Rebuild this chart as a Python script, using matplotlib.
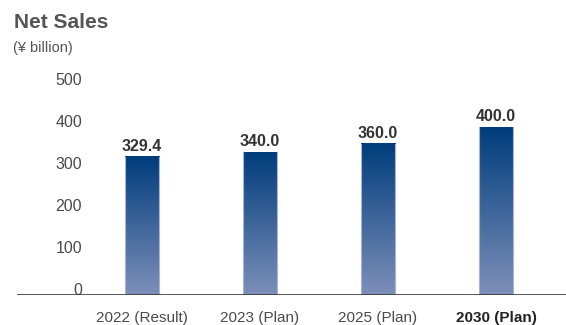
import numpy as np
import matplotlib
matplotlib.use("Agg")
import matplotlib.pyplot as plt
from matplotlib.colors import LinearSegmentedColormap
from matplotlib.transforms import ScaledTranslation, blended_transform_factory

plt.rcParams['font.family'] = ['Liberation Sans', 'DejaVu Sans']

categories = ["2022 (Result)", "2023 (Plan)", "2025 (Plan)", "2030 (Plan)"]
net_sales = [329.4, 340.0, 360.0, 400.0]
value_labels = ["329.4", "340.0", "360.0", "400.0"]
y_ticks = [0, 100, 200, 300, 400, 500]
bold_category = "2030 (Plan)"

text_color = "#4a4a4a"
cmap = LinearSegmentedColormap.from_list("navy", ["#7d8fb9", "#003d7c"])

fig = plt.figure(figsize=(5.66, 3.25), dpi=100)
ax = fig.add_axes([0.030, 0.0923, 0.970, 0.646])
ax.set_xlim(-1.059, 3.593)
ax.set_ylim(0, 500)
ax.axis("off")

# axis line along the bottom
ax.axhline(0, color="#3a3a3a", lw=1.2, zorder=5)

width = 0.29
x = np.arange(len(categories))
grad = np.linspace(0, 1, 256).reshape(-1, 1)
for xi, v, lab in zip(x, net_sales, value_labels):
    x0, x1 = xi - width / 2, xi + width / 2
    ax.imshow(grad, cmap=cmap, origin="lower", aspect="auto",
              extent=(x0, x1, 0, v), zorder=2, interpolation="bilinear")
    ax.plot([x0, x0], [0, v], color="#a9b5d0", lw=0.8, zorder=3)
    ax.plot([x1, x1], [0, v], color="#a9b5d0", lw=0.8, zorder=3)
    ax.text(xi, v + 7, lab, ha="center", va="bottom", fontsize=11.5,
            fontweight="bold", color="#333333")

# y tick labels, sitting slightly above their value
lab_tr = blended_transform_factory(fig.transFigure, ax.transData) + \
    ScaledTranslation(0, 4.5 / 100, fig.dpi_scale_trans)
for t in y_ticks:
    ax.text(82 / 566, t, str(t), transform=lab_tr, ha="right", va="center",
            fontsize=11.5, color=text_color)

# category labels
cat_tr = blended_transform_factory(ax.transData, fig.transFigure)
for xi, c in zip(x, categories):
    ax.text(xi, 1 - 318 / 325, c, transform=cat_tr, ha="center", va="center",
            fontsize=11, color="#222222" if c == bold_category else text_color,
            fontweight="bold" if c == bold_category else "normal")

fig.text(14 / 566, 1 - 23 / 325, "Net Sales", fontsize=15, fontweight="bold",
         color="#555555", ha="left", va="center")
fig.text(13 / 566, 1 - 48 / 325, "(¥ billion)", fontsize=10.5,
         color="#555555", ha="left", va="center")

fig.savefig("out.png", dpi=100)
